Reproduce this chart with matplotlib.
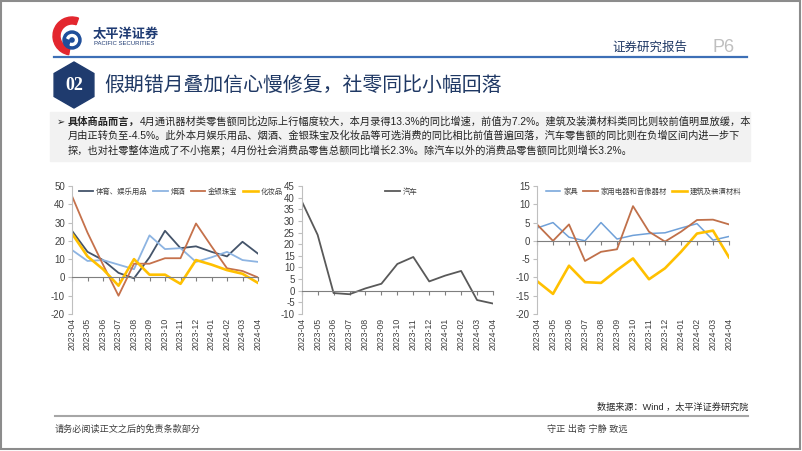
import matplotlib.pyplot as plt
import matplotlib.patches as mpatches
import numpy as np

plt.rcParams['font.family'] = ['Liberation Sans', 'Noto Sans CJK SC', 'DejaVu Sans']
plt.rcParams['axes.unicode_minus'] = False

months = ['2023-04', '2023-05', '2023-06', '2023-07', '2023-08', '2023-09', '2023-10',
          '2023-11', '2023-12', '2024-01', '2024-02', '2024-03', '2024-04']

# chart 1
sports = [25.5, 14, 9.5, 2.5, -0.5, 11, 25.5, 16, 17, 14, 11.5, 19.5, 13]
tobacco = [15, 9, 9.5, 7, 4.5, 23, 15.5, 16, 8.5, 11, 14, 9.5, 8.5]
jewelry = [44.5, 24.5, 7, -10, 7.5, 7.5, 10.5, 10.5, 29.5, 17, 5, 3.5, 0]
cosmetics = [24, 11.5, 4.5, -4.5, 10, 1.5, 1.5, -3.5, 9.5, 7, 4, 2, -3]
# chart 2
autos = [38.5, 24, -1, -1.5, 1, 3, 11.5, 14.5, 4, 6.5, 8.5, -4, -5.5]
# chart 3
furniture = [3.5, 5, 1, 0, 5, 0.5, 1.5, 2, 2.2, 3.5, 4.7, 0.2, 1.2]
appliances = [4.5, 0, 4.5, -5.5, -3, -2.3, 9.5, 2.5, -0.2, 2.5, 5.7, 5.8, 4.5]
building = [-11, -14.5, -6.8, -11.3, -11.5, -8, -4.8, -10.5, -7.5, -3, 2, 2.8, -4.5]

W, H = 802, 451
fig = plt.figure(figsize=(W / 100, H / 100), dpi=100)

# page decoration, pixel coordinates
bg = fig.add_axes([0, 0, 1, 1])
bg.set_xlim(0, W)
bg.set_ylim(H, 0)
bg.axis('off')
cjk = ['Noto Sans CJK SC', 'DejaVu Sans']
navy = '#1F3864'

bg.add_patch(mpatches.Rectangle((1, 1), W - 3, H - 3, fill=False, ec='#8c8c8c', lw=1.5))

# logo
bg.add_patch(mpatches.Wedge((72, 36), 19, 100, 290, width=7, color='#E3262E'))
bg.add_patch(mpatches.Circle((72, 40), 9, color='#1F4E9A'))
bg.add_patch(mpatches.Wedge((72, 40), 5.5, 200, 470, width=2, color='white'))
bg.text(93, 34, '太平洋证券', fontsize=9.5, fontweight='bold', color='#1F3B73',
        va='center', family=cjk)
bg.text(94, 43.5, 'PACIFIC SECURITIES', fontsize=4.3, color='#1F3B73', va='center')

bg.plot([54, 747], [57, 57], color='#3D6FB6', lw=1.6)
bg.text(612, 47, '证券研究报告', fontsize=9, color=navy, va='center', family=cjk)
bg.text(712, 47, 'P6', fontsize=13, color='#BFBFBF', va='center')

# title
bg.add_patch(mpatches.RegularPolygon((74, 85), 6, radius=23, color='#1F3B6E'))
bg.text(74, 86, '02', fontsize=13, fontweight='bold', color='white', ha='center',
        va='center', family='Liberation Serif')
bg.text(104, 86, '假期错月叠加信心慢修复，社零同比小幅回落', fontsize=14.3, color=navy,
        va='center', family=cjk)

# text box
bg.add_patch(mpatches.Rectangle((50, 112), 700, 49, color='#F2F2F2'))
bg.text(57, 122, '➢', fontsize=7, color='#222222', va='center', family=['DejaVu Sans'])
fs = 7.35
t0 = bg.text(68, 122, '具体商品而言，', fontsize=fs, fontweight='bold', color='#222222',
             va='center', family=cjk)
fig.canvas.draw()
bb = t0.get_window_extent()
x_rest = bg.transData.inverted().transform((bb.x1, 0))[0]
bg.text(x_rest, 122, '4月通讯器材类零售额同比边际上行幅度较大，本月录得13.3%的同比增速，'
        '前值为7.2%。建筑及装潢材料类同比则较前值明显放缓，本',
        fontsize=fs, color='#222222', va='center')
bg.text(68, 136, '月由正转负至-4.5%。此外本月娱乐用品、烟酒、金银珠宝及化妆品等可选消费的同比'
        '相比前值普遍回落，汽车零售额的同比则在负增区间内进一步下',
        fontsize=fs, color='#222222', va='center')
bg.text(68, 150, '探，也对社零整体造成了不小拖累；4月份社会消费品零售总额同比增长2.3%。'
        '除汽车以外的消费品零售额同比则增长3.2%。',
        fontsize=fs, color='#222222', va='center')

# footer
bg.text(748, 407, '数据来源：Wind ，太平洋证券研究院', fontsize=6.6, color='#262626',
        ha='right', va='center')
bg.plot([55, 748], [415.5, 415.5], color='#A6A6A6', lw=1.5)
bg.text(55, 429, '请务必阅读正文之后的免责条款部分', fontsize=6.6, color='#404040', va='center')
bg.text(547, 429, '守正 出奇 宁静 致远', fontsize=6.6, color='#404040', va='center')


def make_chart(left, right, series, ylim, step, leg_x, ncol):
    ax = fig.add_axes([left / W, 1 - 314 / H, (right - left) / W, 128 / H])
    ax.patch.set_alpha(0)
    x = np.arange(len(months))
    for values, label, color, lw in series:
        ax.plot(x, values, color=color, lw=lw, label=label)
    ax.set_xlim(0, len(months) - 1)
    ax.set_ylim(*ylim)
    ax.set_yticks(np.arange(ylim[0], ylim[1] + 1, step))
    ax.spines[['top', 'right']].set_visible(False)
    ax.spines['bottom'].set_position(('data', 0))
    ax.spines['bottom'].set_color('#7f7f7f')
    ax.spines['left'].set_color('#bfbfbf')
    ax.set_xticks(x)
    ax.tick_params(axis='x', length=3, color='#7f7f7f', labelbottom=False)
    ax.tick_params(axis='y', length=3, color='#bfbfbf', labelsize=7,
                   labelcolor='#404040', pad=2)
    sec = ax.secondary_xaxis('bottom')
    sec.set_xticks(x, labels=months, rotation=90, fontsize=6.3, color='#404040')
    sec.tick_params(length=0, pad=3)
    sec.spines['bottom'].set_visible(False)
    leg = ax.legend(loc='center left', bbox_to_anchor=(leg_x, 0.955), ncol=ncol,
                    frameon=False, fontsize=5.3, handlelength=2.0, columnspacing=0.7,
                    handletextpad=0.4, borderaxespad=0, borderpad=0)
    for t in leg.get_texts():
        t.set_color('#404040')
    return ax


make_chart(72, 258,
           [(sports, '体育、娱乐用品', '#44546A', 1.3),
            (tobacco, '烟酒', '#8DB4E2', 1.3),
            (jewelry, '金银珠宝', '#C5714B', 1.3),
            (cosmetics, '化妆品', '#FFC000', 1.9)],
           (-20, 50), 10, 0.035, 4)

make_chart(301.7, 493,
           [(autos, '汽车', '#595959', 1.3)],
           (-10, 45), 5, 0.435, 1)

make_chart(537, 729,
           [(furniture, '家具', '#6FA0D8', 1.1),
            (appliances, '家用电器和音像器材', '#C0704A', 1.3),
            (building, '建筑及装潢材料', '#FFC000', 1.9)],
           (-20, 15), 5, 0.045, 3)

fig.savefig('out.png', dpi=100)
